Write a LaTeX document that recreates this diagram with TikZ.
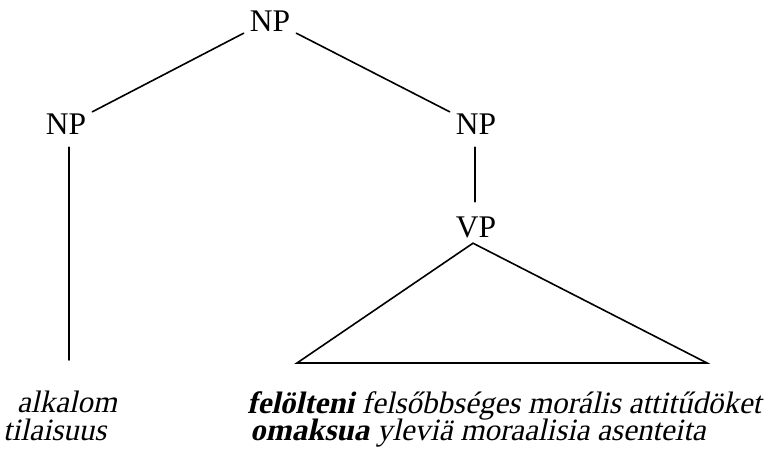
\documentclass[tikz,border=0pt]{standalone}
\usepackage{fontspec}
\setmainfont{Liberation Serif}[
  ItalicFont={Liberation Serif},
  ItalicFeatures={FakeSlant=0.22},
  BoldItalicFont={Liberation Serif Bold},
  BoldItalicFeatures={FakeSlant=0.22}]
\begin{document}
\begin{tikzpicture}[x=1pt,y=-1pt,
  cat/.style={inner xsep=6pt,inner ysep=1pt,text height=22pt,text depth=0pt,anchor=base,
    font=\fontsize{31.5}{36}\selectfont},
  leaf/.style={inner sep=0pt,anchor=base west,font=\fontsize{31}{36}\selectfont\itshape},
  branch/.style={line width=1.6pt,line cap=round,line join=miter}]
  \useasboundingbox (0,0) rectangle (784,449);

  % category labels
  \node[cat] (top) at (270,32) {NP};
  \node[cat] (lnp) at (66,135) {NP};
  \node[cat] (rnp) at (476,135) {NP};
  \node[cat] (vp) at (476,237) {VP};

  % terminal strings
  \node[leaf] (alk) at (17,412) {alkalom};
  \node[leaf] (til) at (3,440) {tilaisuus};
  \node[leaf] (hu) at (247,413) {\textbf{felölteni} felsőbbséges morális attitűdöket};
  \node[leaf] (fi) at (250,440) {\textbf{omaksua} yleviä moraalisia asenteita};

  % branches
  \draw[branch] (top.south west) -- (lnp.north east);
  \draw[branch] (top.south east) -- (rnp.north west);
  \draw[branch] ([xshift=3pt,yshift=-11pt]lnp.south) -- ([xshift=3pt]lnp.south |- 0,360);
  \draw[branch] ([xshift=-1pt,yshift=-11pt]rnp.south) -- ([xshift=-1pt,yshift=12pt]vp.north);

  % triangle over the verb phrase
  \coordinate (apex) at ([xshift=-3pt,yshift=-5pt]vp.south);
  \coordinate (bl) at (297,363);
  \coordinate (br) at (707,363);
  \draw[branch] (apex) -- (bl) -- (br) -- cycle;
\end{tikzpicture}
\end{document}
